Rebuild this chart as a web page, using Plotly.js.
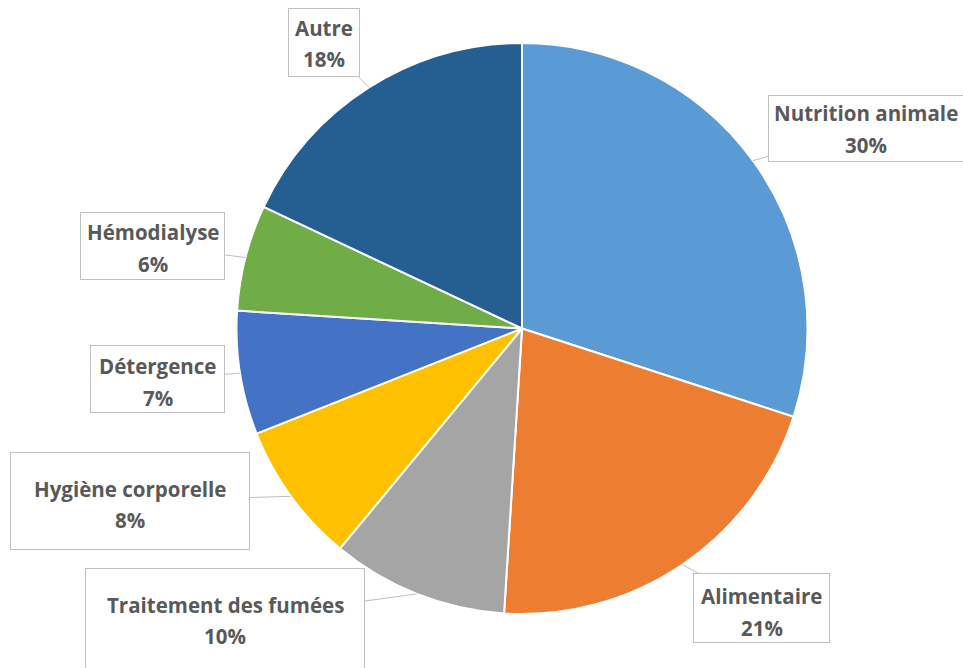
<!DOCTYPE html>
<html>
<head>
<meta charset="utf-8">
<script src="https://cdn.plot.ly/plotly-3.0.1.min.js"></script>
<style>html,body{margin:0;padding:0;background:#fff;}#chart{width:963px;height:668px;}</style>
</head>
<body>
<div id="chart"></div>
<script>
// Data
var categories = ["Nutrition animale", "Alimentaire", "Traitement des fumées", "Hygiène corporelle", "Détergence", "Hémodialyse", "Autre"];
var values = [30, 21, 10, 8, 7, 6, 18];
var colors = ["#5B9BD5", "#ED7D31", "#A5A5A5", "#FFC000", "#4472C4", "#70AD47", "#255E91"];

// Layout of callout boxes (pixel centres, sizes) and text line positions
var boxCx = [866, 761.5, 225, 130, 157.5, 152.5, 324];
var boxCy = [128.5, 608, 620, 501, 379, 246, 42.5];
var boxW  = [196, 137, 280, 240, 135, 145, 72];
var boxH  = [67, 70, 104, 98, 68, 68, 69];
var nameY = [113, 596, 605, 489, 366, 232, 28];
var pctY  = [145, 628, 636, 520, 398, 264, 59];

var W = 963, H = 668;
var domX = [(522 - 286) / W, (522 + 286) / W];
var domY = [1 - 614 / H, 1 - 43 / H];

var cx = (domX[0] + domX[1]) / 2 * W;
var cy = (1 - (domY[0] + domY[1]) / 2) * H;
var r = Math.min((domX[1] - domX[0]) * W, (domY[1] - domY[0]) * H) / 2;

var total = values.reduce(function (a, b) { return a + b; }, 0);
var annotations = [];
var cum = 0;
var fontName = {family: "'Open Sans', Lato, sans-serif", size: 20.5, color: "#595959", weight: 700};
for (var i = 0; i < values.length; i++) {
  var mid = (cum + values[i] / 2) / total * 2 * Math.PI;
  cum += values[i];
  var tx = cx + r * Math.sin(mid);
  var ty = cy - r * Math.cos(mid);
  annotations.push({
    xref: "paper", yref: "paper",
    x: tx / W, y: 1 - ty / H,
    ax: boxCx[i] - tx, ay: boxCy[i] - ty,
    axref: "pixel", ayref: "pixel",
    text: " ", showarrow: true, arrowhead: 0, arrowwidth: 1, arrowcolor: "#BFBFBF",
    width: boxW[i] - 2, height: boxH[i] - 2, borderpad: 0,
    bordercolor: "#BFBFBF", borderwidth: 1, bgcolor: "#FFFFFF", standoff: 0
  });
  annotations.push({
    xref: "paper", yref: "paper", x: boxCx[i] / W, y: 1 - nameY[i] / H,
    xanchor: "center", yanchor: "middle", showarrow: false,
    text: "<b>" + categories[i] + "</b>", font: fontName
  });
  annotations.push({
    xref: "paper", yref: "paper", x: boxCx[i] / W, y: 1 - pctY[i] / H,
    xanchor: "center", yanchor: "middle", showarrow: false,
    text: "<b>" + values[i] + "%</b>", font: fontName
  });
}

var trace = {
  type: "pie",
  labels: categories,
  values: values,
  sort: false,
  direction: "clockwise",
  rotation: 0,
  textinfo: "none",
  marker: {colors: colors, line: {color: "#FFFFFF", width: 2}},
  domain: {x: domX, y: domY},
  showlegend: false
};

var layout = {
  width: W, height: H,
  margin: {l: 0, r: 0, t: 0, b: 0},
  paper_bgcolor: "#FFFFFF",
  plot_bgcolor: "#FFFFFF",
  showlegend: false,
  annotations: annotations
};

Plotly.newPlot("chart", [trace], layout, {displayModeBar: false, staticPlot: true});
</script>
</body>
</html>
